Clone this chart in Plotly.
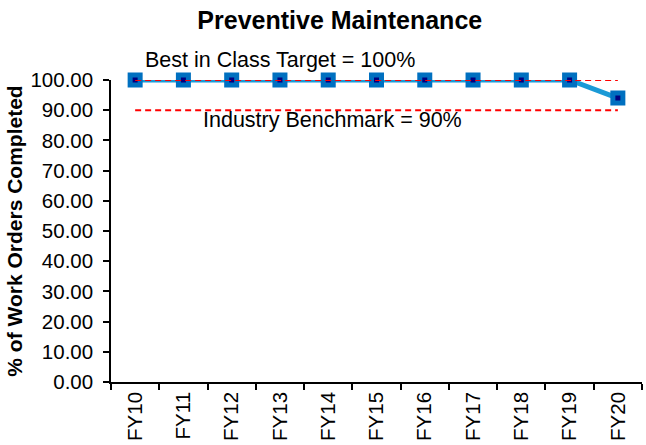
import plotly.graph_objects as go

years = ["FY10", "FY11", "FY12", "FY13", "FY14", "FY15", "FY16", "FY17", "FY18", "FY19", "FY20"]
completed = [100, 100, 100, 100, 100, 100, 100, 100, 100, 100, 94]
best_in_class = [100] * 11
industry = [90] * 11

FONT = "Liberation Sans, Arial, sans-serif"

fig = go.Figure()

fig.add_trace(go.Scatter(
    x=years, y=completed, mode="lines+markers",
    line=dict(color="#1B9AD6", width=5),
    marker=dict(symbol="square", size=10, color="#000080",
                line=dict(color="#0070C0", width=5)),
    cliponaxis=False, showlegend=False,
))
fig.add_trace(go.Scatter(
    x=years, y=best_in_class, mode="lines",
    line=dict(color="#FF0000", width=2, dash="6px,4px"),
    cliponaxis=False, showlegend=False,
))
fig.add_trace(go.Scatter(
    x=years, y=industry, mode="lines",
    line=dict(color="#FF0000", width=2, dash="6px,4px"),
    cliponaxis=False, showlegend=False,
))

fig.add_annotation(x="FY10", y=100, text="Best in Class Target = 100%",
                   xanchor="left", yanchor="middle", xshift=8, yshift=20,
                   showarrow=False, font=dict(family=FONT, size=21.5, color="#000"))
fig.add_annotation(x="FY12", y=90, text="Industry Benchmark = 90%",
                   xanchor="left", yanchor="middle", xshift=-31, yshift=-10,
                   showarrow=False, font=dict(family=FONT, size=21.5, color="#000"))

fig.update_layout(
    width=646, height=445,
    margin=dict(l=111, r=4, t=80, b=63),
    paper_bgcolor="white", plot_bgcolor="white",
    font=dict(family=FONT, size=21, color="#000"),
    title=dict(text="<b>Preventive Maintenance</b>", x=0.526, xanchor="center",
               y=0.955, yanchor="middle", font=dict(family=FONT, size=25, color="#000")),
)
fig.update_xaxes(
    type="category", tickson="boundaries", tickangle=-90,
    showline=True, linecolor="#000", linewidth=1.5,
    ticks="outside", ticklen=6, tickwidth=1.5, tickcolor="#000",
    showgrid=False, zeroline=False, range=[-0.5, 10.5],
    tickfont=dict(family=FONT, size=20.5),
)
fig.update_yaxes(
    range=[0, 100], dtick=10, tickformat=".2f",
    showline=True, linecolor="#000", linewidth=1.5,
    ticks="outside", ticklen=6, tickwidth=1.5, tickcolor="#000",
    ticklabelstandoff=6,
    showgrid=False, zeroline=False,
    tickfont=dict(family=FONT, size=20.5),
    title=dict(text="<b>% of Work Orders Completed</b>", standoff=2,
               font=dict(family=FONT, size=21)),
)

fig.write_html("out.html")
